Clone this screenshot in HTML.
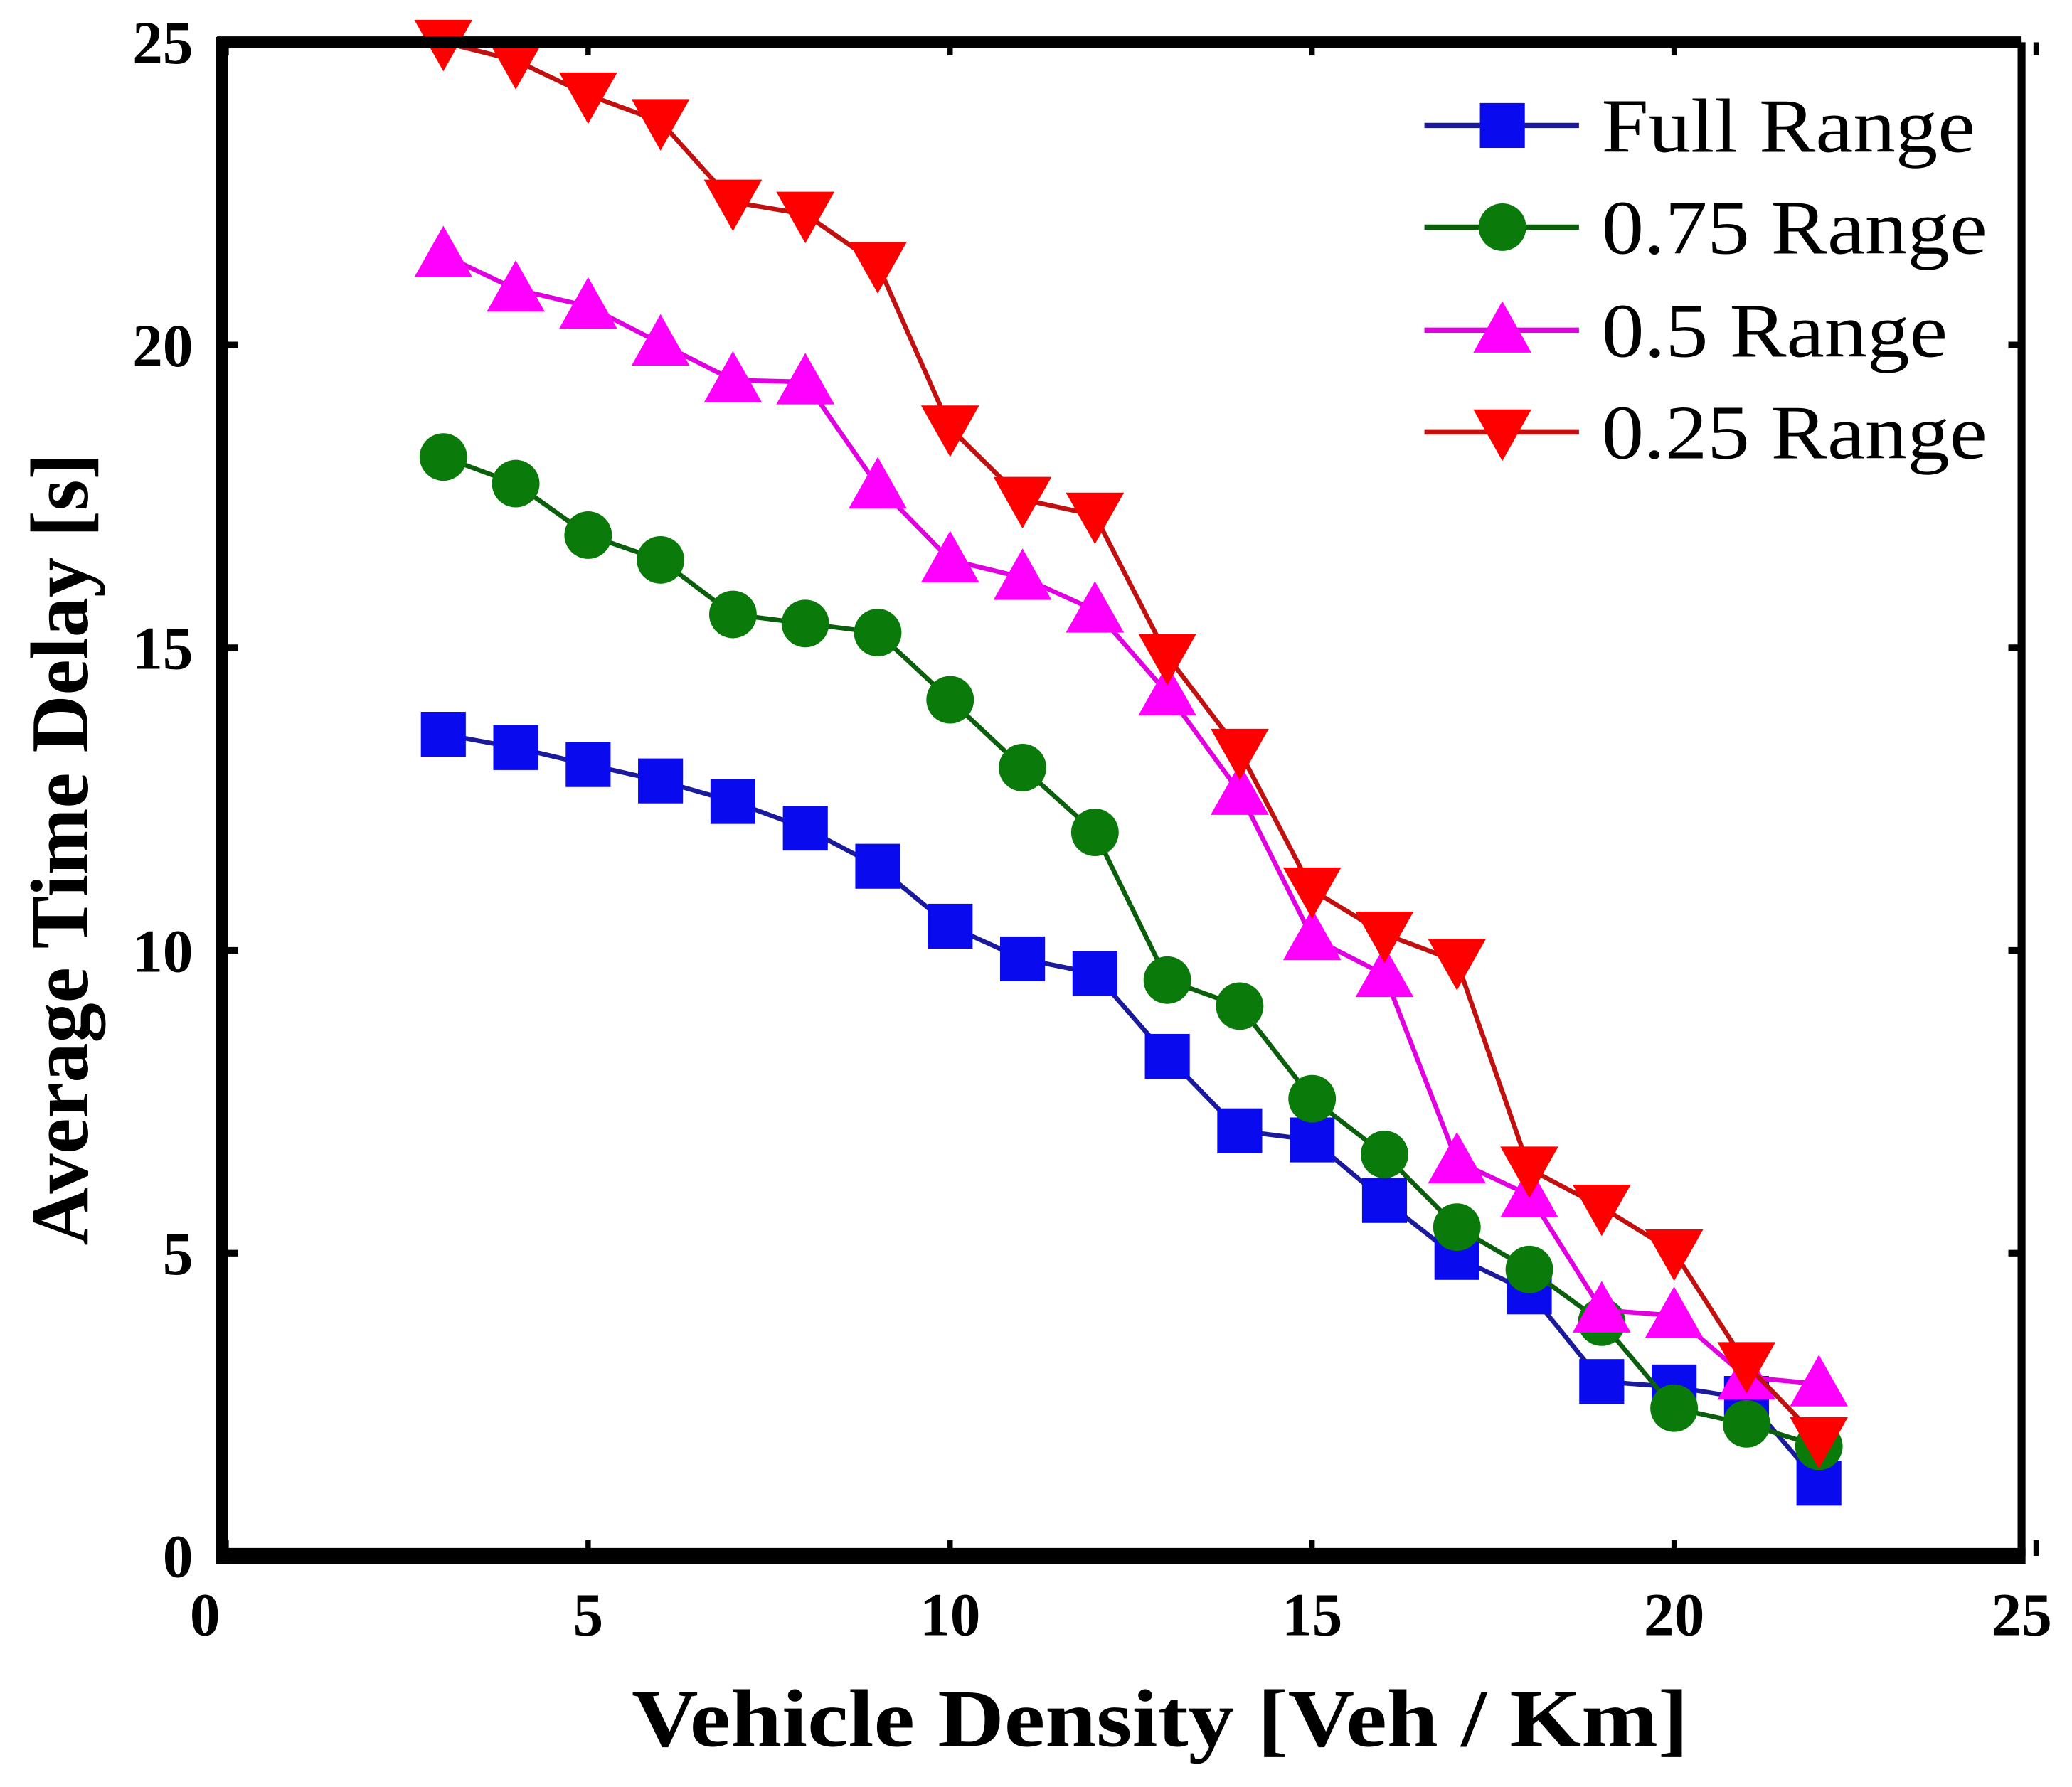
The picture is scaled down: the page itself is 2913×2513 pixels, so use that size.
<!DOCTYPE html>
<html><head><meta charset="utf-8"><style>
html,body{margin:0;padding:0;background:#fff;}
svg{display:block;}
text{font-family:"Liberation Serif",serif;}
</style></head><body>
<svg id="chart" width="2913" height="2513" viewBox="0 0 1568 1353" xmlns="http://www.w3.org/2000/svg">
<rect width="1568" height="1353" fill="#fff"/>
<g id="plot"></g>
<g id="axes"></g>
<g id="legend"></g>
<text x="878" y="1322" font-size="62" font-weight="bold" text-anchor="middle" textLength="800" lengthAdjust="spacingAndGlyphs">Vehicle Density [Veh / Km]</text>
<text transform="translate(66,643) rotate(-90)" font-size="62" font-weight="bold" text-anchor="middle" textLength="600" lengthAdjust="spacingAndGlyphs">Average Time Delay [s]</text>
</svg>
<script>
const xs = [3,4,5,6,7,8,9,10,11,12,13,14,15,16,17,18,19,20,21,22];
const fullRange = [13.57,13.35,13.07,12.8,12.46,12.02,11.39,10.4,9.86,9.62,8.25,7.02,6.87,5.87,4.93,4.36,2.88,2.79,2.6,1.2];
const range075 = [18.15,17.71,16.86,16.45,15.55,15.4,15.25,14.14,13.02,11.95,9.51,9.08,7.55,6.63,5.43,4.73,3.86,2.44,2.18,1.81];
const range05 = [21.49,20.92,20.64,20.03,19.42,19.39,17.67,16.45,16.16,15.62,14.25,12.61,10.21,9.6,6.52,5.96,4.06,3.97,2.95,2.84];
const range025 = [25,24.7,24.13,23.69,22.36,22.16,21.33,18.63,17.45,17.19,14.86,13.29,11.0,10.27,9.82,6.39,5.76,5.02,3.16,1.92];
const xTicks = [0,5,10,15,20,25];
const yTicks = [0,5,10,15,20,25];
const seriesNames = ["Full Range","0.75 Range","0.5 Range","0.25 Range"];

const NS="http://www.w3.org/2000/svg";
const L=168,R=1530,T=32,B=1178;
function xScale(v){return 171+v*54.8;}
function yScale(v){return B-(v/25)*(B-T);}
function mk(tag,attrs,parent){const e=document.createElementNS(NS,tag);for(const k in attrs)e.setAttribute(k,attrs[k]);parent.appendChild(e);return e;}
const plot=document.getElementById('plot'),axes=document.getElementById('axes'),legend=document.getElementById('legend');

function marker(type,cx,cy,fill,parent){
  let e;
  if(type==='square'){e=mk('rect',{x:cx-17,y:cy-17,width:34,height:34,fill:fill},parent);}
  else if(type==='circle'){e=mk('circle',{cx:cx,cy:cy,r:18,fill:fill},parent);}
  else if(type==='up'){e=mk('polygon',{points:`${cx},${cy-22} ${cx-22},${cy+17} ${cx+22},${cy+17}`,fill:fill},parent);}
  else {e=mk('polygon',{points:`${cx},${cy+22} ${cx-22},${cy-17} ${cx+22},${cy-17}`,fill:fill},parent);}
  return e;
}
const series=[
 {vals:fullRange,line:'#1a1a9a',fill:'#0a0aee',m:'square',key:'full-range'},
 {vals:range075,line:'#0b5e0b',fill:'#0a7a0a',m:'circle',key:'range-075'},
 {vals:range05,line:'#e000e0',fill:'#ff00ff',m:'up',key:'range-05'},
 {vals:range025,line:'#c01010',fill:'#ff0000',m:'down',key:'range-025'}
];
series.forEach(s=>{
  const g=mk('g',{},plot);
  
  
  const pts=xs.map((x,i)=>xScale(x)+','+yScale(s.vals[i])).join(' ');
  const pl=mk('polyline',{points:pts,fill:'none',stroke:s.line,'stroke-width':3.5},g);
  
  
  xs.forEach((x,i)=>{
    const m=marker(s.m,xScale(x),yScale(s.vals[i]),s.fill,g);
    
    
  });
});
let f;
f=mk('line',{x1:L,y1:T-4,x2:L,y2:B+6,stroke:'#000','stroke-width':9},axes);

f=mk('line',{x1:L-4,y1:T,x2:R,y2:T,stroke:'#000','stroke-width':9},axes);

f=mk('line',{x1:R,y1:T,x2:R,y2:B,stroke:'#000','stroke-width':6},axes);

f=mk('line',{x1:L-4,y1:B,x2:R+3,y2:B,stroke:'#000','stroke-width':12},axes);

xTicks.forEach(v=>{
  const x=xScale(v);
  const t=mk('line',{x1:x,y1:B-12,x2:x,y2:B,stroke:'#000','stroke-width':4},axes);
  
  const t2=mk('line',{x1:x,y1:T,x2:x,y2:T+10,stroke:'#000','stroke-width':4},axes);
  
  const lb=mk('text',{x:v===0?155:(v===25?1530:x),y:1238,'font-size':46,'text-anchor':'middle','font-weight':'bold'},axes);
  lb.textContent=v;
  
});
yTicks.forEach(v=>{
  const y=yScale(v);
  const t=mk('line',{x1:L,y1:y,x2:L+12,y2:y,stroke:'#000','stroke-width':5},axes);
  
  const t2=mk('line',{x1:R-10,y1:y,x2:R,y2:y,stroke:'#000','stroke-width':5},axes);
  
  const lb=mk('text',{x:146,y:y+16,'font-size':46,'text-anchor':'end','font-weight':'bold'},axes);
  lb.textContent=v;
  
});
const ly=[95,172,250,327];
const lw=[283,292,262,292];
series.forEach((s,i)=>{
  const g=mk('g',{},legend);
  
  
  mk('line',{x1:1078,y1:ly[i],x2:1195,y2:ly[i],stroke:s.line,'stroke-width':4},g);
  marker(s.m,1137,ly[i],s.fill,g);
  const t=mk('text',{x:1212,y:ly[i]+20,'font-size':58,textLength:lw[i],lengthAdjust:'spacingAndGlyphs'},g);
  t.textContent=seriesNames[i];
});
</script>
</body></html>
